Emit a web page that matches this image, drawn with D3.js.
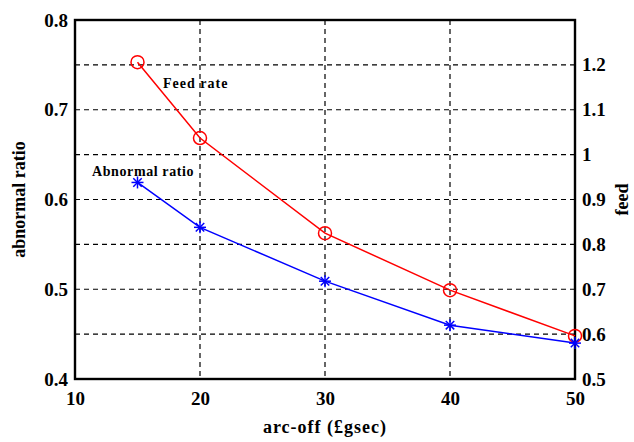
<!DOCTYPE html>
<html lang="en">
<head>
<meta charset="UTF-8">
<title>Abnormal ratio and feed rate vs arc-off</title>
<script src="https://d3js.org/d3.v7.min.js"></script>
<style>
    body { margin: 0; background: #fff; }
</style>
</head>
<body>
<svg id="chart" width="634" height="442"></svg>
<script>
    const arcOff = [15, 20, 30, 40, 50];
    const abnormalRatio = [0.619, 0.569, 0.509, 0.460, 0.440];
    const feedRate = [1.206, 1.037, 0.825, 0.698, 0.596];
    const xTicks = [10, 20, 30, 40, 50];
    const leftTicks = [0.4, 0.5, 0.6, 0.7, 0.8];
    const rightTicks = [0.5, 0.6, 0.7, 0.8, 0.9, 1, 1.1, 1.2];

    const FONT = "'Liberation Serif', 'Times New Roman', serif";

    const svg = d3.select("#chart");
    const margin = {top: 20, right: 59, bottom: 63, left: 75};
    const width = 634 - margin.left - margin.right,
          height = 442 - margin.top - margin.bottom;
    const g = svg.append("g").attr("transform", `translate(${margin.left},${margin.top})`);

    const x = d3.scaleLinear().domain([10, 50]).range([0, width]);
    const yL = d3.scaleLinear().domain([0.4, 0.8]).range([height, 0]);
    const yR = d3.scaleLinear().domain([0.5, 1.3]).range([height, 0]);

    // grid
    g.append("g").selectAll("line").data(rightTicks.slice(1))
        .enter().append("line")
        .attr("x1", 0).attr("x2", width)
        .attr("y1", d => yR(d)).attr("y2", d => yR(d))
        .attr("stroke", "#000").attr("stroke-width", 1.2).attr("stroke-dasharray", "5,4");
    g.append("g").selectAll("line").data(xTicks.slice(1, -1))
        .enter().append("line")
        .attr("y1", 0).attr("y2", height)
        .attr("x1", d => x(d)).attr("x2", d => x(d))
        .attr("stroke", "#000").attr("stroke-width", 1.2).attr("stroke-dasharray", "5,4");

    // axes
    const styleAxis = sel => {
        sel.attr("font-family", null).attr("font-size", null);
        sel.select(".domain").remove();
        sel.selectAll(".tick line").remove();
        sel.selectAll("text")
            .style("font-family", FONT).style("font-weight", "bold")
            .style("font-size", "19px").attr("fill", "#000");
    };
    g.append("g").attr("transform", `translate(0,${height})`)
        .call(d3.axisBottom(x).tickValues(xTicks).tickFormat(d3.format("d")).tickSize(0).tickPadding(13))
        .call(styleAxis);
    g.append("g")
        .call(d3.axisLeft(yL).tickValues(leftTicks).tickFormat(d3.format(".1f")).tickSize(0).tickPadding(7))
        .call(styleAxis);
    g.append("g").attr("transform", `translate(${width},0)`)
        .call(d3.axisRight(yR).tickValues(rightTicks).tickFormat(d => d === 1 ? "1" : d3.format(".1f")(d)).tickSize(0).tickPadding(7))
        .call(styleAxis);

    // frame
    g.append("rect").attr("width", width).attr("height", height)
        .attr("fill", "none").attr("stroke", "#000").attr("stroke-width", 2.4);

    // series
    const lineL = d3.line().x((d, i) => x(arcOff[i])).y(d => yL(d));
    const lineR = d3.line().x((d, i) => x(arcOff[i])).y(d => yR(d));

    g.append("path").datum(feedRate).attr("d", lineR)
        .attr("fill", "none").attr("stroke", "#ff0000").attr("stroke-width", 1.5);
    g.selectAll(".circ").data(feedRate).enter().append("circle")
        .attr("cx", (d, i) => x(arcOff[i])).attr("cy", d => yR(d)).attr("r", 6.5)
        .attr("fill", "none").attr("stroke", "#ff0000").attr("stroke-width", 1.5);

    g.append("path").datum(abnormalRatio).attr("d", lineL)
        .attr("fill", "none").attr("stroke", "#0000ff").attr("stroke-width", 1.5);
    const star = g.selectAll(".star").data(abnormalRatio).enter().append("g")
        .attr("transform", (d, i) => `translate(${x(arcOff[i])},${yL(d)})`);
    [0, 45, 90, 135].forEach(a => {
        star.append("line")
            .attr("x1", -6).attr("x2", 6).attr("y1", 0).attr("y2", 0)
            .attr("transform", `rotate(${a})`)
            .attr("stroke", "#0000ff").attr("stroke-width", 1.5);
    });

    const label = (sel, size) => sel.style("font-family", FONT).style("font-weight", "bold")
        .style("font-size", size).attr("fill", "#000");

    // in-plot labels
    g.append("text").attr("x", 88).attr("y", 68).text("Feed rate")
        .call(label, "14px").style("letter-spacing", "1px");
    g.append("text").attr("x", 17).attr("y", 156).text("Abnormal ratio")
        .call(label, "14px").style("letter-spacing", "0.6px");

    // axis titles
    svg.append("text").attr("x", margin.left + width / 2).attr("y", 433)
        .attr("text-anchor", "middle").text("arc-off (£gsec)")
        .call(label, "18px").style("letter-spacing", "1px");
    svg.append("text").attr("transform", `translate(25,${margin.top + height / 2}) rotate(-90)`)
        .attr("text-anchor", "middle").text("abnormal ratio").call(label, "18px");
    svg.append("text").attr("transform", `translate(628,${margin.top + height / 2}) rotate(-90)`)
        .attr("text-anchor", "middle").text("feed").call(label, "18px");
</script>
</body>
</html>
